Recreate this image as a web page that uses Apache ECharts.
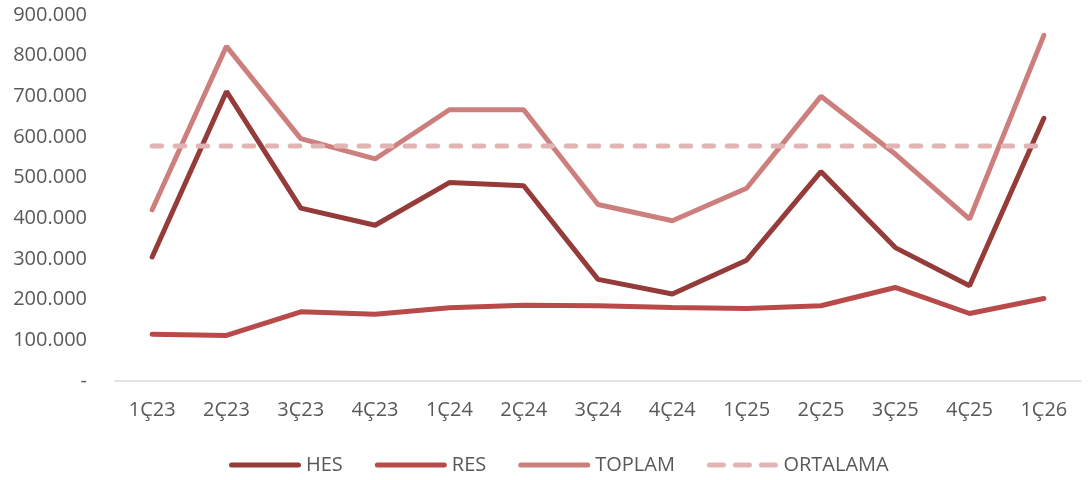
<!DOCTYPE html>
<html>
<head>
<meta charset="utf-8">
<script src="https://cdn.jsdelivr.net/npm/echarts@6/dist/echarts.min.js"></script>
<style>
html,body{margin:0;padding:0;background:#fff;}
#chart{width:1092px;height:480px;}
</style>
</head>
<body>
<div id="chart"></div>
<script>
const categories = ['1Ç23','2Ç23','3Ç23','4Ç23','1Ç24','2Ç24','3Ç24','4Ç24','1Ç25','2Ç25','3Ç25','4Ç25','1Ç26'];
const hes = [305000, 712000, 425000, 383000, 488000, 480000, 250000, 214000, 297000, 515000, 328000, 234000, 646000];
const res = [115000, 112000, 170000, 164000, 180000, 186000, 185000, 181000, 178000, 185000, 230000, 166000, 203000];
const toplam = [421000, 823000, 596000, 546000, 667000, 667000, 434000, 394000, 474000, 700000, 558000, 398000, 850000];
const ortalama = [578000, 578000, 578000, 578000, 578000, 578000, 578000, 578000, 578000, 578000, 578000, 578000, 578000];
const seriesNames = ['HES', 'RES', 'TOPLAM', 'ORTALAMA'];

const FONT = 'Open Sans';
const chart = echarts.init(document.getElementById('chart'));
function fmt(v){
  if (v === 0) return '-';
  return String(v).replace(/\B(?=(\d{3})+(?!\d))/g, '.');
}
const mk = (name, data, color, dashed) => ({
  name, type: 'line', data, symbol: 'none', smooth: false,
  lineStyle: { color, width: 5, type: dashed ? [9.5, 13.5] : 'solid', cap: 'round' },
  itemStyle: { color },
  emphasis: { disabled: true }
});
const solidIcon = 'path://M2.5,0 L69.5,0 A2.5,2.5 0 0 1 69.5,5 L2.5,5 A2.5,2.5 0 0 1 2.5,0 Z';
const dashIcon = 'path://M2.5,0 L16.5,0 A2.5,2.5 0 0 1 16.5,5 L2.5,5 A2.5,2.5 0 0 1 2.5,0 Z M28.5,0 L42.5,0 A2.5,2.5 0 0 1 42.5,5 L28.5,5 A2.5,2.5 0 0 1 28.5,0 Z M54.5,0 L68.5,0 A2.5,2.5 0 0 1 68.5,5 L54.5,5 A2.5,2.5 0 0 1 54.5,0 Z';
chart.setOption({
  animation: false,
  grid: { left: 115, right: 11, top: 15, bottom: 99 },
  xAxis: {
    type: 'category', data: categories, boundaryGap: true,
    axisLine: { lineStyle: { color: '#D9D9D9', width: 1.5 } },
    axisTick: { show: false },
    axisLabel: { color: '#595959', fontSize: 20, fontFamily: FONT, margin: 19 }
  },
  yAxis: {
    type: 'value', min: 0, max: 900000, interval: 100000,
    splitLine: { show: false },
    axisLine: { show: false }, axisTick: { show: false },
    axisLabel: { color: '#595959', fontSize: 20, fontFamily: FONT, margin: 28, formatter: fmt }
  },
  legend: {
    bottom: 0, left: 224, itemWidth: 72, itemHeight: 5, itemGap: 32,
    textStyle: { color: '#595959', fontSize: 20, fontFamily: FONT },
    data: seriesNames.map((n, i) => ({ name: n, icon: i === 3 ? dashIcon : solidIcon }))
  },
  series: [
    mk(seriesNames[0], hes, '#953B39'),
    mk(seriesNames[1], res, '#B84B49'),
    mk(seriesNames[2], toplam, '#CD7F7D'),
    mk(seriesNames[3], ortalama, '#E2B5B4', true)
  ]
});
</script>
</body>
</html>
